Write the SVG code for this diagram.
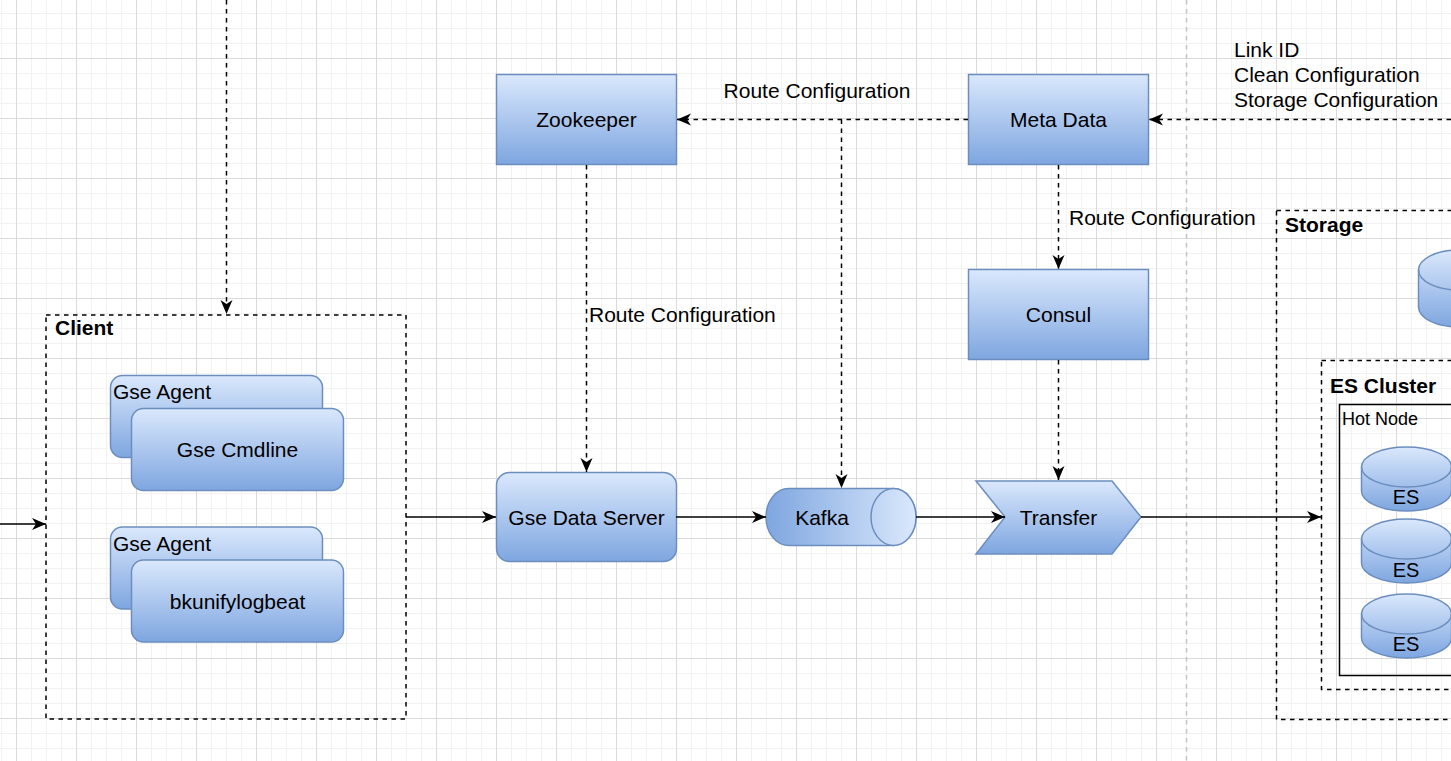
<svg xmlns="http://www.w3.org/2000/svg" width="1451" height="761" viewBox="0 0 1451 761">
<style>
text{font-family:"Liberation Sans",Arial,Helvetica,sans-serif;fill:#000}
.t21{font-size:21px}
.t18{font-size:18px}
.t20{font-size:20px}
.b21{font-size:21px;font-weight:bold}
.mid{text-anchor:middle}
.box{fill:url(#gv);stroke:#6c8ebf;stroke-width:1.5}
.grp{fill:none;stroke:#000;stroke-width:1.5;stroke-dasharray:4.5 4.5}
.solid{fill:none;stroke:#000;stroke-width:1.5;marker-end:url(#arr)}
.dash{fill:none;stroke:#000;stroke-width:1.5;stroke-dasharray:4.5 4.5;marker-end:url(#arr)}
</style>
<defs>
<pattern id="grid" patternUnits="userSpaceOnUse" x="16" y="58" width="60" height="60">
<path d="M15.5,0V60M30.5,0V60M45.5,0V60M0,15.5H60M0,30.5H60M0,45.5H60" stroke="#f2f2f2" stroke-width="1" fill="none"/>
<path d="M0.5,0V60M0,0.5H60" stroke="#dadada" stroke-width="1" fill="none"/>
</pattern>
<linearGradient id="gv" x1="0" y1="0" x2="0" y2="1">
<stop offset="0" stop-color="#dae8fc"/>
<stop offset="1" stop-color="#7ea6e0"/>
</linearGradient>
<linearGradient id="gk" gradientUnits="userSpaceOnUse" x1="766" y1="0" x2="916" y2="0">
<stop offset="0" stop-color="#7ea6e0"/>
<stop offset="1" stop-color="#dae8fc"/>
</linearGradient>
<marker id="arr" markerUnits="userSpaceOnUse" markerWidth="16" markerHeight="14" refX="14" refY="6" orient="auto">
<path d="M0,0 L14,6 L0,12 L4,6 Z" fill="#000"/>
</marker>
</defs>

<rect width="1451" height="761" fill="#fff"/>
<rect width="1451" height="761" fill="url(#grid)"/>
<line x1="1186.5" y1="0" x2="1186.5" y2="761" stroke="#c4c4c4" stroke-width="1.5" stroke-dasharray="4.5 4.5"/>

<g id="client">
<rect x="46" y="315" width="360" height="404" class="grp"/>
<text x="55" y="335" class="b21">Client</text>
</g>
<g id="gse-agent-1">
<rect x="110.5" y="375.5" width="212" height="82" rx="12" class="box"/>
<text x="113" y="399" class="t21">Gse Agent</text>
</g>
<g id="gse-cmdline">
<rect x="131.5" y="408.5" width="212" height="82" rx="12" class="box"/>
<text x="237.5" y="457" class="t21 mid">Gse Cmdline</text>
</g>
<g id="gse-agent-2">
<rect x="110.5" y="527" width="212" height="82" rx="12" class="box"/>
<text x="113" y="550.5" class="t21">Gse Agent</text>
</g>
<g id="bkunifylogbeat">
<rect x="131.5" y="560" width="212" height="82" rx="12" class="box"/>
<text x="237.5" y="608.5" class="t21 mid">bkunifylogbeat</text>
</g>

<g id="zookeeper">
<rect x="496.5" y="74.5" width="180" height="90" class="box"/>
<text x="586.5" y="127" class="t21 mid">Zookeeper</text>
</g>
<g id="meta-data">
<rect x="968.5" y="74.5" width="180" height="90" class="box"/>
<text x="1058.5" y="127" class="t21 mid">Meta Data</text>
</g>
<g id="consul">
<rect x="968.5" y="269.5" width="180" height="90" class="box"/>
<text x="1058.5" y="322" class="t21 mid">Consul</text>
</g>
<g id="gse-data-server">
<rect x="496.5" y="472.5" width="180" height="89" rx="13" class="box"/>
<text x="586.5" y="525" class="t21 mid">Gse Data Server</text>
</g>
<g id="kafka">
<path d="M788.5,488.5 L893.5,488.5 A22.5,28.5 0 0 1 893.5,545.5 L788.5,545.5 A22.5,28.5 0 0 1 788.5,488.5 Z" fill="url(#gk)" stroke="#6c8ebf" stroke-width="1.5"/>
<ellipse cx="893.5" cy="517" rx="22.5" ry="28.5" fill="url(#gk)" stroke="#6c8ebf" stroke-width="1.5"/>
<text x="822" y="525" class="t21 mid">Kafka</text>
</g>
<g id="transfer">
<polygon points="976,481 1112,481 1141,517 1112,554 976,554 1005,517" class="box"/>
<text x="1058.5" y="525" class="t21 mid">Transfer</text>
</g>

<g id="storage">
<rect x="1276.5" y="210.5" width="200" height="509" class="grp"/>
<text x="1285" y="232" class="b21">Storage</text>
</g>
<g id="storage-db">
<path d="M1418.5,270 A40,20 0 0 1 1498.5,270 L1498.5,307 A40,20 0 0 1 1418.5,307 Z" class="box"/>
<path d="M1418.5,270 A40,20 0 0 0 1498.5,270" fill="none" stroke="#6c8ebf" stroke-width="1.5"/>
</g>
<g id="es-cluster">
<rect x="1321.5" y="360.5" width="160" height="329" class="grp"/>
<text x="1330" y="393" class="b21">ES Cluster</text>
</g>
<g id="hot-node">
<rect x="1339.5" y="404.5" width="140" height="271" fill="none" stroke="#000" stroke-width="1.5"/>
<text x="1342" y="425" class="t18">Hot Node</text>
</g>
<g id="es-1">
<path d="M1361.5,467 A45,20 0 0 1 1451.5,467 L1451.5,491 A45,20 0 0 1 1361.5,491 Z" class="box"/>
<path d="M1361.5,467 A45,20 0 0 0 1451.5,467" fill="none" stroke="#6c8ebf" stroke-width="1.5"/>
<text x="1406" y="504" class="t20 mid">ES</text>
</g>
<g id="es-2">
<path d="M1361.5,539 A45,20 0 0 1 1451.5,539 L1451.5,563 A45,20 0 0 1 1361.5,563 Z" class="box"/>
<path d="M1361.5,539 A45,20 0 0 0 1451.5,539" fill="none" stroke="#6c8ebf" stroke-width="1.5"/>
<text x="1406" y="577" class="t20 mid">ES</text>
</g>
<g id="es-3">
<path d="M1361.5,614 A45,20 0 0 1 1451.5,614 L1451.5,638 A45,20 0 0 1 1361.5,638 Z" class="box"/>
<path d="M1361.5,614 A45,20 0 0 0 1451.5,614" fill="none" stroke="#6c8ebf" stroke-width="1.5"/>
<text x="1406" y="651" class="t20 mid">ES</text>
</g>

<g id="connectors">
<path d="M0,524 H46" class="solid"/>
<path d="M226.5,0 V314" class="dash"/>
<path d="M406,517 H496" class="solid"/>
<path d="M676,517 H766" class="solid"/>
<path d="M916,517 H1005" class="solid"/>
<path d="M1141,517 H1321" class="solid"/>
<path d="M968,119.5 H677" class="dash"/>
<path d="M841.5,119.5 V488" class="dash"/>
<path d="M586.5,165 V472" class="dash"/>
<path d="M1058.5,165 V269" class="dash"/>
<path d="M1058.5,360 V480" class="dash"/>
<path d="M1451,119.5 H1149" class="dash"/>
<text x="817" y="97.5" class="t21 mid">Route Configuration</text>
<text x="589" y="322" class="t21">Route Configuration</text>
<text x="1069" y="225" class="t21">Route Configuration</text>
<text x="1234" y="57" class="t21">Link ID</text>
<text x="1234" y="82" class="t21">Clean Configuration</text>
<text x="1234" y="107" class="t21">Storage Configuration</text>
</g>
</svg>
